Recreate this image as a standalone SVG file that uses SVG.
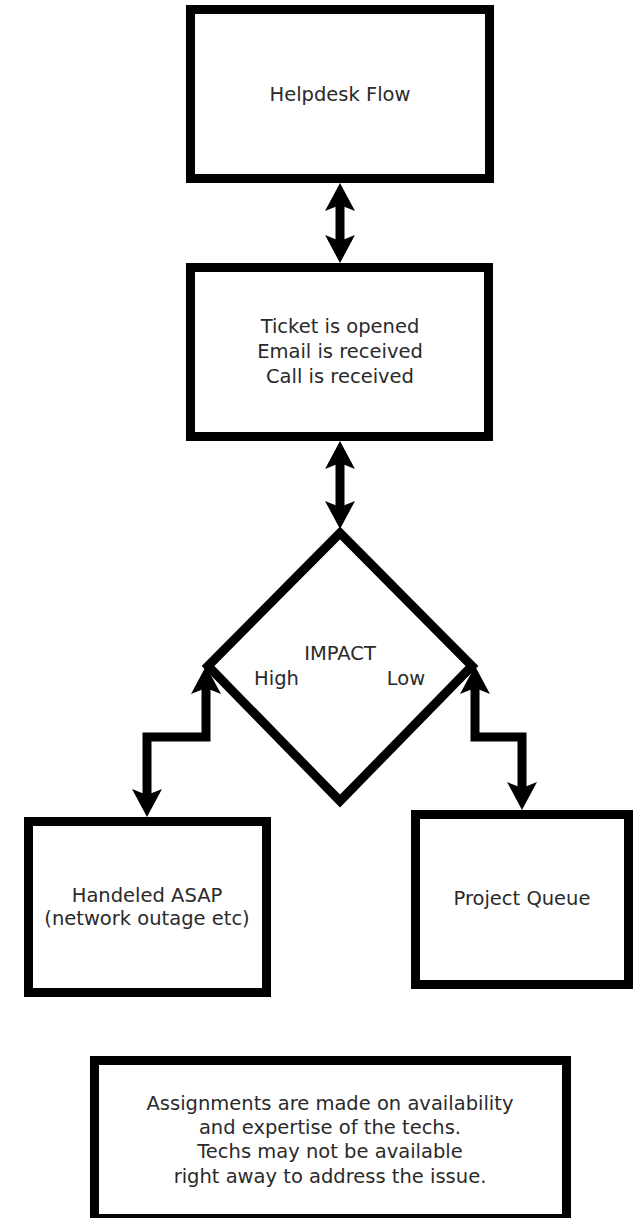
<svg xmlns="http://www.w3.org/2000/svg" width="633" height="1218" viewBox="0 0 633 1218">
<style>
.box{fill:#fff;stroke:#000;stroke-width:9;stroke-linejoin:miter}
.lbl{font-family:"DejaVu Sans","Liberation Sans",sans-serif;font-size:19.5px;fill:#2a2a2a;text-anchor:middle}
.con{fill:none;stroke:#000;stroke-width:9;stroke-linejoin:miter;marker-start:url(#ah);marker-end:url(#ah)}
</style>
<defs>
<marker id="ah" markerUnits="userSpaceOnUse" viewBox="0 0 28 30" refX="6" refY="15" markerWidth="28" markerHeight="30" orient="auto-start-reverse">
<path d="M0,0 L28,15 L0,30 L6,15 Z" fill="#000"/>
</marker>
</defs>
<rect width="633" height="1218" fill="#fff"/>
<g id="connectors">
<path class="con" d="M340,205 L340,241"/>
<path class="con" d="M340,463 L340,507"/>
<path class="con" d="M206,688 L206,737 L147,737 L147,795"/>
<path class="con" d="M475,688 L475,737 L522,737 L522,788"/>
</g>
<g id="helpdesk">
<rect class="box" x="190.5" y="9.5" width="299" height="169"/>
<text class="lbl" x="340" y="101">Helpdesk Flow</text>
</g>
<g id="ticket">
<rect class="box" x="190.5" y="267.5" width="298" height="169"/>
<text class="lbl" x="340" y="333">Ticket is opened</text>
<text class="lbl" x="340" y="358">Email is received</text>
<text class="lbl" x="340" y="383">Call is received</text>
</g>
<g id="impact">
<path class="box" d="M340,533 L472,666 L340,801 L208,666 Z"/>
<text class="lbl" x="340" y="660">IMPACT</text>
<text class="lbl" x="276.5" y="685">High</text>
<text class="lbl" x="406" y="685">Low</text>
</g>
<g id="asap">
<rect class="box" x="28.5" y="821.5" width="238" height="171"/>
<text class="lbl" x="147" y="902">Handeled ASAP</text>
<text class="lbl" x="147" y="925">(network outage etc)</text>
</g>
<g id="queue">
<rect class="box" x="415.5" y="814.5" width="213" height="170"/>
<text class="lbl" x="522" y="905">Project Queue</text>
</g>
<g id="note">
<rect class="box" x="94.5" y="1060.5" width="472" height="158"/>
<text class="lbl" x="330" y="1110">Assignments are made on availability</text>
<text class="lbl" x="330" y="1134">and expertise of the techs.</text>
<text class="lbl" x="330" y="1158">Techs may not be available</text>
<text class="lbl" x="330" y="1183">right away to address the issue.</text>
</g>
</svg>
